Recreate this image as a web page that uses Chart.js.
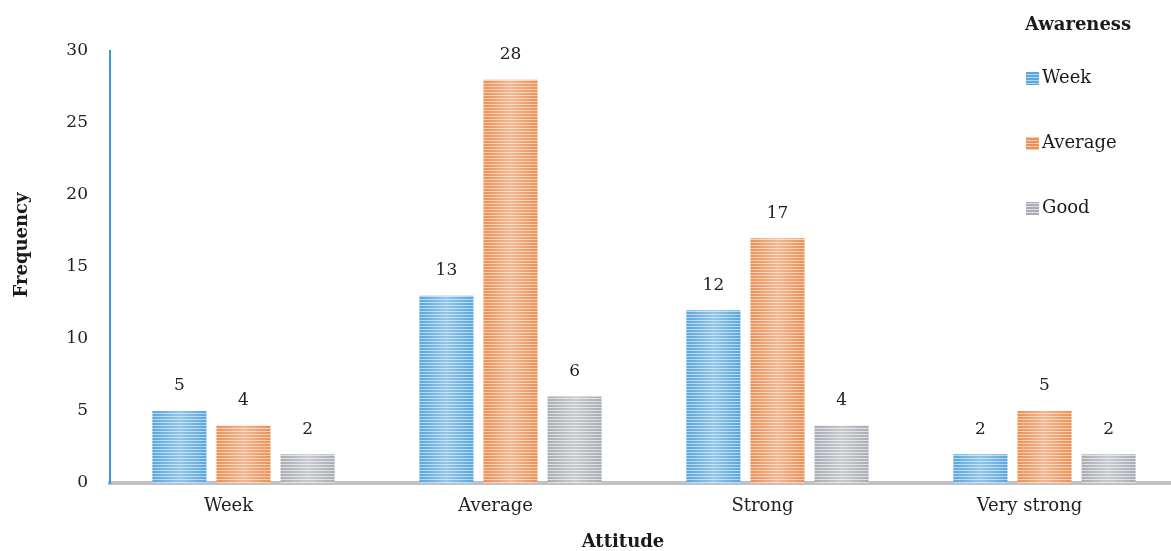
<!DOCTYPE html>
<html>
<head>
<meta charset="utf-8">
<script src="https://cdn.jsdelivr.net/npm/chart.js@4/dist/chart.umd.min.js"></script>
<style>
html,body{margin:0;padding:0;background:#fff;overflow:hidden;}
#wrap{position:relative;width:1180px;height:551px;}
</style>
</head>
<body>
<div id="wrap"><canvas id="c" width="1180" height="551"></canvas></div>
<script>
const categories = ["Week", "Average", "Strong", "Very strong"];
const seriesNames = ["Week", "Average", "Good"];
const weekValues = [5, 13, 12, 2];
const averageValues = [4, 28, 17, 5];
const goodValues = [2, 6, 4, 2];
const yTicks = [0, 5, 10, 15, 20, 25, 30];
const xTitle = "Attitude";
const yTitle = "Frequency";
const legendTitle = "Awareness";

const FONT = "'DejaVu Serif', serif";
const baseColors = ["#58a7df", "#ee8f55", "#a9adb3"];
const lightColors = ["#b3d7f1", "#f8cdb0", "#dcdee1"];

function stripePattern(base, light) {
  const pc = document.createElement('canvas');
  pc.width = 4; pc.height = 3;
  const g = pc.getContext('2d');
  g.fillStyle = base; g.fillRect(0, 0, 4, 3);
  g.fillStyle = light; g.fillRect(0, 2, 4, 1);
  return document.getElementById('c').getContext('2d').createPattern(pc, 'repeat');
}

const glowPlugin = {
  id: 'glow',
  afterDatasetsDraw(chart) {
    const ctx = chart.ctx;
    chart.data.datasets.forEach((ds, di) => {
      const meta = chart.getDatasetMeta(di);
      meta.data.forEach(bar => {
        const l = bar.x - bar.width / 2, r = bar.x + bar.width / 2;
        const top = bar.y, bot = bar.base;
        const gr = ctx.createLinearGradient(l, 0, r, 0);
        gr.addColorStop(0, 'rgba(255,255,255,0)');
        gr.addColorStop(0.5, 'rgba(255,255,255,0.35)');
        gr.addColorStop(1, 'rgba(255,255,255,0)');
        ctx.save();
        ctx.fillStyle = gr;
        ctx.fillRect(l, top, r - l, bot - top);
        ctx.restore();
      });
    });
  }
};

const labelPlugin = {
  id: 'valueLabels',
  afterDatasetsDraw(chart) {
    const ctx = chart.ctx;
    ctx.save();
    ctx.font = "17px " + FONT;
    ctx.fillStyle = "#222";
    ctx.textAlign = 'center';
    ctx.textBaseline = 'middle';
    chart.data.datasets.forEach((ds, di) => {
      const meta = chart.getDatasetMeta(di);
      meta.data.forEach((bar, i) => {
        ctx.fillText(String(ds.data[i]), bar.x, bar.y - 25);
      });
    });
    ctx.restore();
  }
};

const titlePlugin = {
  id: 'axisTitles',
  afterDraw(chart) {
    const ctx = chart.ctx;
    ctx.save();
    ctx.fillStyle = "#1a1a1a";
    ctx.font = "bold 18px " + FONT;
    ctx.textAlign = 'center';
    ctx.textBaseline = 'middle';
    ctx.fillText(xTitle, 623, 542);
    ctx.translate(22, 245);
    ctx.rotate(-Math.PI / 2);
    ctx.fillText(yTitle, 0, 0);
    ctx.restore();
  }
};

const legendPlugin = {
  id: 'customLegend',
  afterDraw(chart) {
    const ctx = chart.ctx;
    ctx.save();
    ctx.textBaseline = 'middle';
    ctx.textAlign = 'left';
    ctx.fillStyle = "#1a1a1a";
    ctx.font = "bold 18px " + FONT;
    ctx.fillText(legendTitle, 1025, 25);
    ctx.font = "18px " + FONT;
    chart.data.datasets.forEach((ds, di) => {
      const y = 78 + di * 65;
      ctx.fillStyle = ds.backgroundColor;
      ctx.fillRect(1026, y - 6, 13, 13);
      ctx.fillStyle = "#1a1a1a";
      ctx.fillText(ds.label, 1042, y);
    });
    ctx.restore();
  }
};

const values = [weekValues, averageValues, goodValues];
const datasets = seriesNames.map((name, i) => ({
  label: name,
  data: values[i],
  backgroundColor: stripePattern(baseColors[i], lightColors[i]),
  borderWidth: 0,
  categoryPercentage: 0.72,
  barPercentage: 0.844
}));

new Chart(document.getElementById('c'), {
  type: 'bar',
  data: { labels: categories, datasets },
  options: {
    responsive: false,
    animation: false,
    layout: { padding: { top: 51, left: 0, right: 2, bottom: 0 } },
    plugins: { legend: { display: false }, tooltip: { enabled: false } },
    scales: {
      x: {
        grid: { display: false, drawTicks: false },
        border: { display: true, color: "#bfc1c5", width: 4 },
        ticks: { font: { family: FONT, size: 18 }, color: "#222", padding: 13, labelOffset: -15 },
        title: { display: false, text: xTitle },
        afterFit(s) { s.height = 68; }
      },
      y: {
        min: 0, max: 30,
        afterBuildTicks(s) { s.ticks = yTicks.map(v => ({ value: v })); },
        grid: { display: false, drawTicks: false },
        border: { display: true, color: "#3d9bd8", width: 2 },
        ticks: { font: { family: FONT, size: 17 }, color: "#222", padding: 22 },
        title: { display: false, text: yTitle },
        afterFit(s) { s.width = 110; }
      }
    }
  },
  plugins: [glowPlugin, labelPlugin, titlePlugin, legendPlugin]
});
</script>
</body>
</html>
